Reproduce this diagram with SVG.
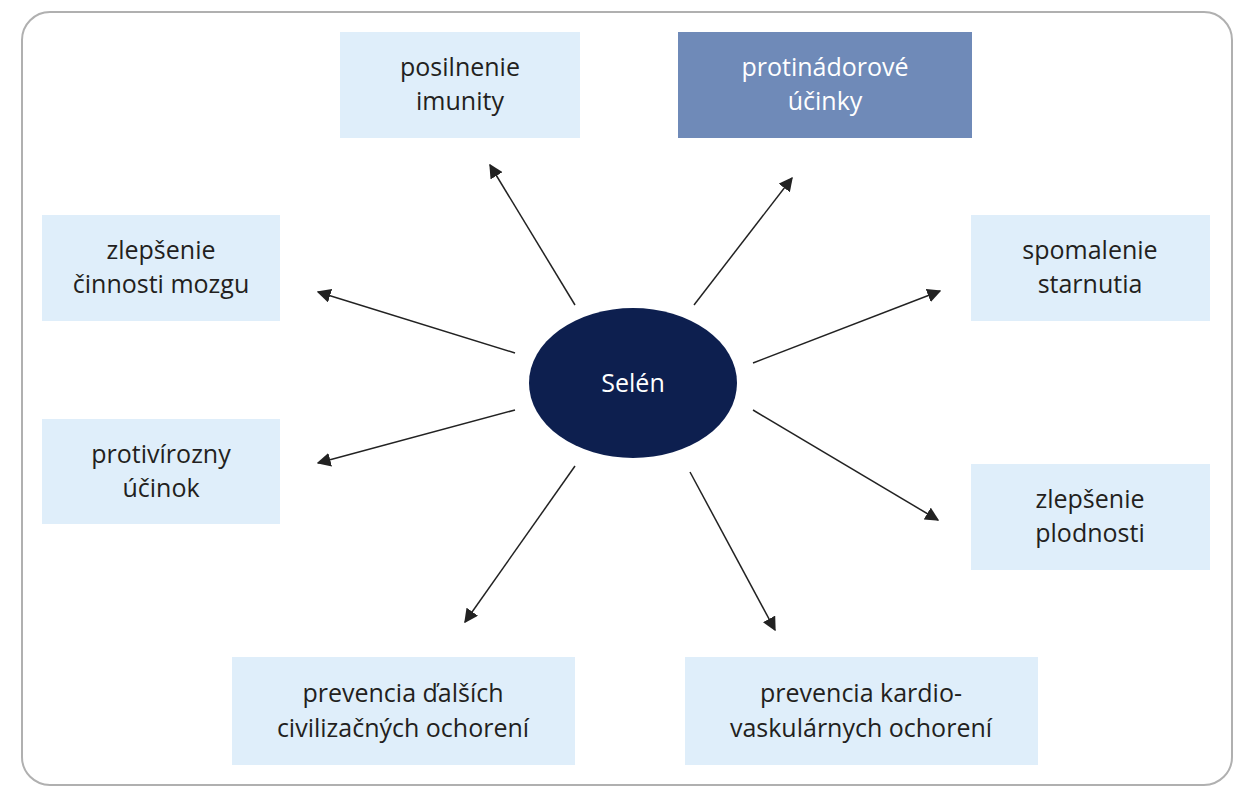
<svg xmlns="http://www.w3.org/2000/svg" width="1246" height="800" viewBox="0 0 1246 800">
<style>
.b{fill:#dfeefa}
.t{font-family:"Open Sans",sans-serif;font-size:25px;fill:#231f20;text-anchor:middle}
.w{fill:#fff}
.c line{stroke:#222;stroke-width:1.5;marker-end:url(#a)}
</style>
<defs><marker id="a" viewBox="0 0 10 10" refX="9" refY="5" markerWidth="10" markerHeight="10" markerUnits="userSpaceOnUse" orient="auto"><path d="M0,0L10,5L0,10z" fill="#222"/></marker>
<marker id="a2" viewBox="0 0 10 10" refX="9" refY="5" markerWidth="14" markerHeight="14" markerUnits="userSpaceOnUse" orient="auto"><path d="M0,0L10,5L0,10z" fill="#222"/></marker></defs>
<rect width="1246" height="800" fill="#fff"/>
<rect x="22" y="12" width="1210" height="773" rx="28" fill="none" stroke="#b0b0b0" stroke-width="2"/>
<g class="c">
<line x1="575" y1="305" x2="490" y2="165" style="marker-end:url(#a2)"/>
<line x1="694" y1="305" x2="792" y2="178" style="marker-end:url(#a2)"/>
<line x1="515" y1="353" x2="318" y2="292" style="marker-end:url(#a2)"/>
<line x1="753" y1="363" x2="940" y2="291" style="marker-end:url(#a2)"/>
<line x1="515" y1="410" x2="318" y2="463" style="marker-end:url(#a2)"/>
<line x1="753" y1="410" x2="938" y2="520" style="marker-end:url(#a2)"/>
<line x1="575" y1="466" x2="465" y2="622" style="marker-end:url(#a2)"/>
<line x1="690" y1="472" x2="775" y2="630" style="marker-end:url(#a2)"/>
</g>
<g id="selen"><ellipse cx="633" cy="383" rx="104" ry="75" fill="#0d1f4f"/><text class="t w" x="633" y="392">Selén</text></g>
<g id="n1"><rect class="b" x="340" y="32" width="240" height="106"/><text class="t" x="460" y="76">posilnenie</text><text class="t" x="460" y="110">imunity</text></g>
<g id="n2"><rect x="678" y="32" width="294" height="106" fill="#6f8ab8"/><text class="t w" x="825" y="76">protinádorové</text><text class="t w" x="825" y="110">účinky</text></g>
<g id="n3"><rect class="b" x="42" y="215" width="238" height="106"/><text class="t" x="161" y="259">zlepšenie</text><text class="t" x="161" y="293">činnosti mozgu</text></g>
<g id="n4"><rect class="b" x="971" y="215" width="239" height="106"/><text class="t" x="1090" y="259">spomalenie</text><text class="t" x="1090" y="293">starnutia</text></g>
<g id="n5"><rect class="b" x="42" y="419" width="238" height="105"/><text class="t" x="161" y="463">protivírozny</text><text class="t" x="161" y="497">účinok</text></g>
<g id="n6"><rect class="b" x="971" y="464" width="239" height="106"/><text class="t" x="1090" y="508">zlepšenie</text><text class="t" x="1090" y="542">plodnosti</text></g>
<g id="n7"><rect class="b" x="232" y="657" width="343" height="108"/><text class="t" x="403" y="702">prevencia ďalších</text><text class="t" x="403" y="737">civilizačných ochorení</text></g>
<g id="n8"><rect class="b" x="685" y="657" width="353" height="108"/><text class="t" x="861" y="702">prevencia kardio-</text><text class="t" x="861" y="737">vaskulárnych ochorení</text></g>
</svg>
